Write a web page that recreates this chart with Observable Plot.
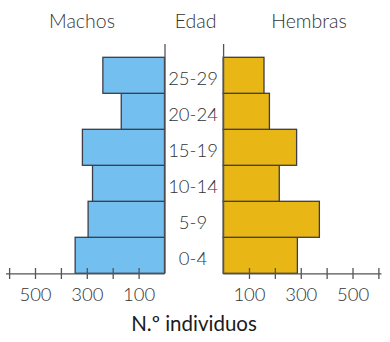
<!DOCTYPE html>
<html>
<head>
<meta charset="utf-8">
<script src="https://cdn.jsdelivr.net/npm/d3@7"></script>
<script src="https://cdn.jsdelivr.net/npm/@observablehq/plot@0.6"></script>
<style>
  html, body { margin: 0; padding: 0; background: #fff; }
  #wrap { position: relative; width: 390px; height: 342px; font-family: Lato, "Open Sans", sans-serif; font-weight: 300; color: #333; }
  .hdr { position: absolute; top: 11px; font-size: 19.5px; line-height: 19px; transform: translateX(-50%); white-space: nowrap; color: #333; }
  #row { position: absolute; top: 40px; left: 0; display: flex; }
  #cap { position: absolute; top: 313px; left: 194px; transform: translateX(-50%); font-size: 20.5px; line-height: 20px; color: #1a1a1a; font-weight: 400; white-space: nowrap; }
  svg { overflow: visible; }
</style>
</head>
<body>
<div id="wrap">
  <span class="hdr" style="left:82px">Machos</span>
  <span class="hdr" style="left:195.5px">Edad</span>
  <span class="hdr" style="left:309px">Hembras</span>
  <div id="row"></div>
  <div id="cap">N.º individuos</div>
</div>
<script>
const ages = ["0-4", "5-9", "10-14", "15-19", "20-24", "25-29"];
const machos = [345, 295, 278, 317, 167, 238];
const hembras = [287, 372, 217, 284, 179, 158];
const tickValues = [100, 200, 300, 400, 500, 600];
const tickLabels = [100, 300, 500];

const data = ages.map((a, i) => ({age: a, i, m: machos[i], h: hembras[i]}));

const H = 270, MT = 4, MB = 36.7;
const yScale = {domain: [0, 6], range: [233.3, 17.3], axis: null};
const baseStyle = {fontFamily: "Lato, 'Open Sans', sans-serif", fontSize: "18.5px", fontWeight: 300, color: "#333", background: "transparent", overflow: "visible"};
const lineColor = "#555";
const edge = "#3d3d48";

const left = Plot.plot({
  width: 168, height: H, marginLeft: 6, marginRight: 3.5, marginTop: MT, marginBottom: MB,
  x: {domain: [0, 612], reverse: true},
  y: yScale,
  style: baseStyle,
  marks: [
    Plot.rectX(data, {x1: 0, x2: "m", y1: "i", y2: d => d.i + 1, fill: "#72bff0", stroke: edge, strokeWidth: 1.3}),
    Plot.ruleY([0], {stroke: lineColor, strokeWidth: 1.3}),
    Plot.ruleX([0], {stroke: lineColor, strokeWidth: 1.3}),
    Plot.axisX({ticks: tickValues, tickSize: 11, dy: -5.3, tickFormat: () => "", label: null, stroke: lineColor, strokeWidth: 1.3}),
    Plot.axisX({ticks: tickLabels, tickSize: 0, tickPadding: 14.5, label: null, fill: "#333"})
  ]
});

const right = Plot.plot({
  width: 222, height: H, marginLeft: 55.1, marginRight: 8.5, marginTop: MT, marginBottom: MB,
  x: {domain: [0, 612]},
  y: yScale,
  style: baseStyle,
  marks: [
    Plot.rectX(data, {x1: 0, x2: "h", y1: "i", y2: d => d.i + 1, fill: "#e8b716", stroke: edge, strokeWidth: 1.3}),
    Plot.ruleY([0], {stroke: lineColor, strokeWidth: 1.3}),
    Plot.ruleX([0], {stroke: lineColor, strokeWidth: 1.3}),
    Plot.axisX({ticks: tickValues, tickSize: 11, dy: -5.3, tickFormat: () => "", label: null, stroke: lineColor, strokeWidth: 1.3}),
    Plot.axisX({ticks: tickLabels, tickSize: 0, tickPadding: 14.5, label: null, fill: "#333"}),
    Plot.text(data, {y: d => d.i + 0.5, text: "age", frameAnchor: "left", dx: -30.6, dy: 3, textAnchor: "middle", fill: "#333", fontSize: 18.5})
  ]
});

document.getElementById("row").append(left, right);
</script>
</body>
</html>
